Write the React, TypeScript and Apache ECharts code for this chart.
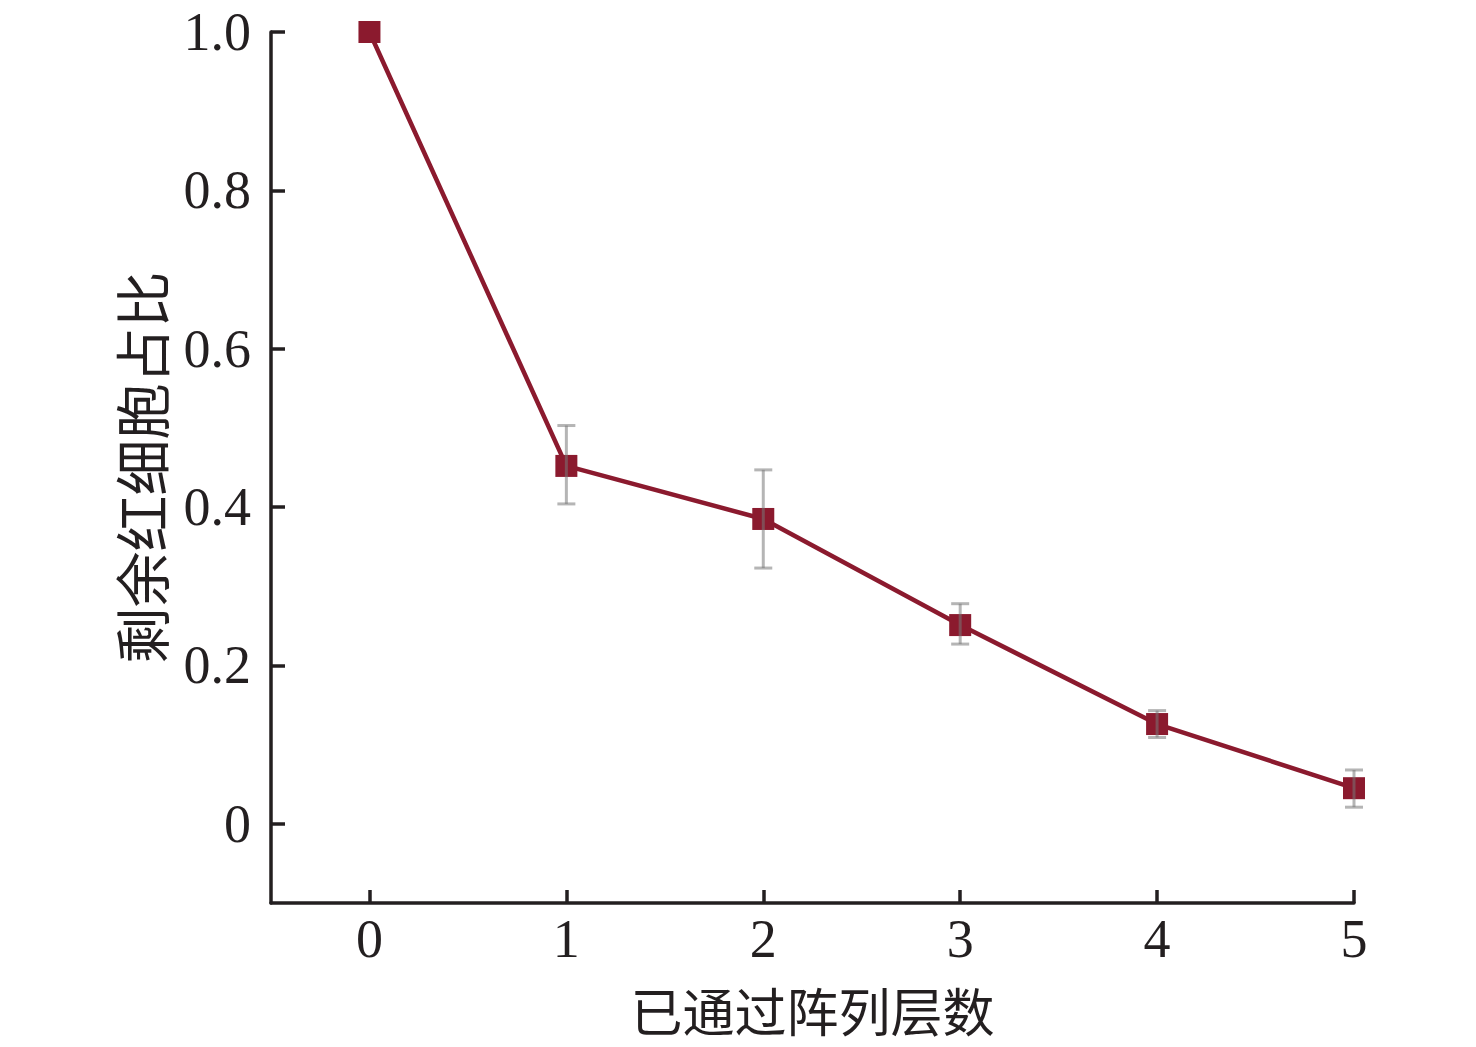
import React, { useEffect, useRef } from "react";
import * as echarts from "echarts";

const layers = [0, 1, 2, 3, 4, 5];
const ratio = [1.0, 0.452, 0.385, 0.251, 0.126, 0.045];
const errLow = [1.0, 0.404, 0.323, 0.227, 0.109, 0.021];
const errHigh = [1.0, 0.503, 0.447, 0.278, 0.143, 0.068];
const yTicks = [0, 0.2, 0.4, 0.6, 0.8, 1.0];
const xTicks = [0, 1, 2, 3, 4, 5];

const xTitle = "已通过阵列层数";
const yTitle = "剩余红细胞占比";

const serif = "'Liberation Serif', 'Times New Roman', 'Noto Sans CJK SC', serif";
const cjk = "'Noto Sans CJK SC', 'Liberation Serif', sans-serif";
const lineColor = "#8b1a2e";
const ink = "#231f20";

export default function App() {
  const ref = useRef<HTMLDivElement>(null);
  useEffect(() => {
    if (!ref.current) return;
    const chart = echarts.init(ref.current, undefined, { renderer: "svg" });
    const errData = layers
      .map((x, i) => [x, errLow[i], errHigh[i]])
      .filter((d, i) => errHigh[i] !== errLow[i]);
    chart.setOption({
      animation: false,
      backgroundColor: "#ffffff",
      grid: { left: 271, right: 122, top: 32, bottom: 144, containLabel: false },
      xAxis: {
        type: "value",
        min: -0.5,
        max: 5,
        name: xTitle,
        nameLocation: "middle",
        nameGap: 81,
        nameTextStyle: { fontFamily: cjk, fontSize: 52, lineHeight: 50, color: ink },
        axisLine: { show: true, onZero: false, lineStyle: { color: ink, width: 3.5 } },
        axisTick: { show: true, inside: true, length: 13, lineStyle: { color: ink, width: 3.5 }, customValues: xTicks },
        axisLabel: {
          customValues: xTicks,
          fontFamily: serif,
          fontSize: 54,
          lineHeight: 50,
          color: ink,
          margin: 11,
          formatter: (v: number) => String(v),
        },
        splitLine: { show: false },
      },
      yAxis: {
        type: "value",
        min: -0.1,
        max: 1.0,
        name: yTitle,
        nameLocation: "middle",
        nameGap: 104,
        nameRotate: 90,
        nameTextStyle: { fontFamily: cjk, fontSize: 56, lineHeight: 56, color: ink },
        axisLine: { show: true, onZero: false, lineStyle: { color: ink, width: 3.5 } },
        axisTick: { show: true, inside: true, length: 14, lineStyle: { color: ink, width: 3.5 }, customValues: yTicks },
        axisLabel: {
          customValues: yTicks,
          fontFamily: serif,
          fontSize: 54,
          lineHeight: 50,
          color: ink,
          margin: 20,
          formatter: (v: number) => (Math.abs(v) < 1e-9 ? "0" : v.toFixed(1)),
        },
        splitLine: { show: false },
      },
      series: [
        {
          type: "line",
          data: layers.map((x, i) => [x, ratio[i]]),
          symbol: "rect",
          symbolSize: 22,
          lineStyle: { color: lineColor, width: 4.5 },
          itemStyle: { color: lineColor },
          z: 2,
        },
        {
          type: "custom",
          data: errData,
          z: 3,
          renderItem: (params: any, api: any) => {
            const x = api.value(0);
            const lo = api.coord([x, api.value(1)]);
            const hi = api.coord([x, api.value(2)]);
            const cap = 9;
            const style = { stroke: "rgba(120,120,120,0.55)", lineWidth: 3 };
            return {
              type: "group",
              children: [
                { type: "line", shape: { x1: lo[0], y1: lo[1], x2: hi[0], y2: hi[1] }, style },
                { type: "line", shape: { x1: lo[0] - cap, y1: lo[1], x2: lo[0] + cap, y2: lo[1] }, style },
                { type: "line", shape: { x1: hi[0] - cap, y1: hi[1], x2: hi[0] + cap, y2: hi[1] }, style },
              ],
            };
          },
        },
      ],
    });
    return () => chart.dispose();
  }, []);
  return (
    <div
      ref={ref}
      style={{ position: "fixed", left: 0, top: 0, width: 1476, height: 1047, background: "#fff" }}
    />
  );
}
